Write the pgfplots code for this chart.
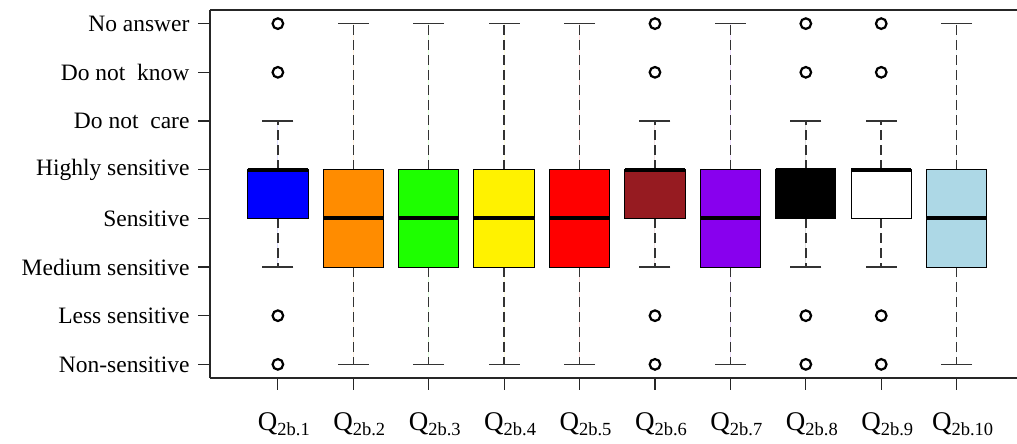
\documentclass[border=0pt]{standalone}
\usepackage{pgfplots}
\pgfplotsset{compat=1.18}
\usepgfplotslibrary{statistics}
\usepackage{fontspec}
\setmainfont{Liberation Serif}
\definecolor{cBrown}{RGB}{150,27,33}
\definecolor{cPurple}{RGB}{136,0,238}
\definecolor{cLight}{RGB}{173,216,230}
\definecolor{cGreen}{RGB}{30,255,0}
\definecolor{cOrange}{RGB}{255,140,0}
\newcommand{\ql}[1]{{\fontsize{27}{28}\selectfont Q}\raisebox{-5pt}{\fontsize{18.5}{19}\selectfont #1}}
\begin{document}
\begin{tikzpicture}
\path[use as bounding box] (-210pt,-66pt) rectangle (807pt,378pt);
\begin{axis}[
  at={(0,0)}, anchor=south west,
  scale only axis, width=807pt, height=368pt,
  xmin=0.1, xmax=10.8, ymin=0.72, ymax=8.28,
  axis x line*=bottom, axis y line*=left,
  axis line style={line width=1.4pt, draw=black!85},
  tick align=outside, major tick length=12pt,
  tick style={line width=1.2pt, draw=black!85},
  xtick={1,2,3,4,5,6,7,8,9,10},
  xticklabels={\ql{2b.1},\ql{2b.2},\ql{2b.3},\ql{2b.4},\ql{2b.5},\ql{2b.6},\ql{2b.7},\ql{2b.8},\ql{2b.9},\ql{2b.10}},
  ytick={1,2,3,4,5,6,7,8},
  yticklabels={Non-sensitive, Less sensitive, Medium sensitive, Sensitive, Highly sensitive, Do not\ \ care, Do not\ \ know, No answer},
  ticklabel style={font=\fontsize{23.5}{26}\selectfont},
  xticklabel style={yshift=-19pt, xshift=6pt},
  yticklabel style={xshift=-5pt},
  boxplot/draw direction=y,
  boxplot/box extend=0.8,
  boxplot/whisker extend=0,
  boxplot/every whisker/.style={dash pattern=on 10pt off 5pt, line width=1.5pt, draw=black!80},
  boxplot/every median/.style={line width=4pt, draw=black},
  boxplot/every box/.style={draw=black, line width=1pt},
  after end axis/.code={\draw[line width=1.4pt, draw=black!85] (rel axis cs:0,1) -- (rel axis cs:1,1);},
]
% box 1
\addplot[fill=blue, mark=o, mark size=5.3pt, mark options={line width=2.2pt, fill=none, draw=black},
  boxplot prepared={draw position=1, lower whisker=3, lower quartile=4, median=5, upper quartile=5, upper whisker=6}]
  table[row sep=\\, y index=0] {1\\2\\7\\8\\};
\addplot[fill=cOrange, boxplot prepared={draw position=2, lower whisker=1, lower quartile=3, median=4, upper quartile=5, upper whisker=8}] coordinates {};
\addplot[fill=cGreen, boxplot prepared={draw position=3, lower whisker=1, lower quartile=3, median=4, upper quartile=5, upper whisker=8}] coordinates {};
\addplot[fill=yellow, boxplot prepared={draw position=4, lower whisker=1, lower quartile=3, median=4, upper quartile=5, upper whisker=8}] coordinates {};
\addplot[fill=red, boxplot prepared={draw position=5, lower whisker=1, lower quartile=3, median=4, upper quartile=5, upper whisker=8}] coordinates {};
\addplot[fill=cBrown, mark=o, mark size=5.3pt, mark options={line width=2.2pt, fill=none, draw=black},
  boxplot prepared={draw position=6, lower whisker=3, lower quartile=4, median=5, upper quartile=5, upper whisker=6}]
  table[row sep=\\, y index=0] {1\\2\\7\\8\\};
\addplot[fill=cPurple, boxplot prepared={draw position=7, lower whisker=1, lower quartile=3, median=4, upper quartile=5, upper whisker=8}] coordinates {};
\addplot[fill=black, mark=o, mark size=5.3pt, mark options={line width=2.2pt, fill=none, draw=black},
  boxplot prepared={draw position=8, lower whisker=3, lower quartile=4, median=5, upper quartile=5, upper whisker=6}]
  table[row sep=\\, y index=0] {1\\2\\7\\8\\};
\addplot[fill=white, mark=o, mark size=5.3pt, mark options={line width=2.2pt, fill=none, draw=black},
  boxplot prepared={draw position=9, lower whisker=3, lower quartile=4, median=5, upper quartile=5, upper whisker=6}]
  table[row sep=\\, y index=0] {1\\2\\7\\8\\};
\addplot[fill=cLight, boxplot prepared={draw position=10, lower whisker=1, lower quartile=3, median=4, upper quartile=5, upper whisker=8}] coordinates {};
% whisker caps
\addplot[only marks, mark=-, mark size=15.5pt, mark options={line width=1.4pt, draw=black!80}] coordinates {
(1,3) (1,6) (2,1) (2,8) (3,1) (3,8) (4,1) (4,8) (5,1) (5,8)
(6,3) (6,6) (7,1) (7,8) (8,3) (8,6) (9,3) (9,6) (10,1) (10,8)};
\end{axis}
\end{tikzpicture}
\end{document}
